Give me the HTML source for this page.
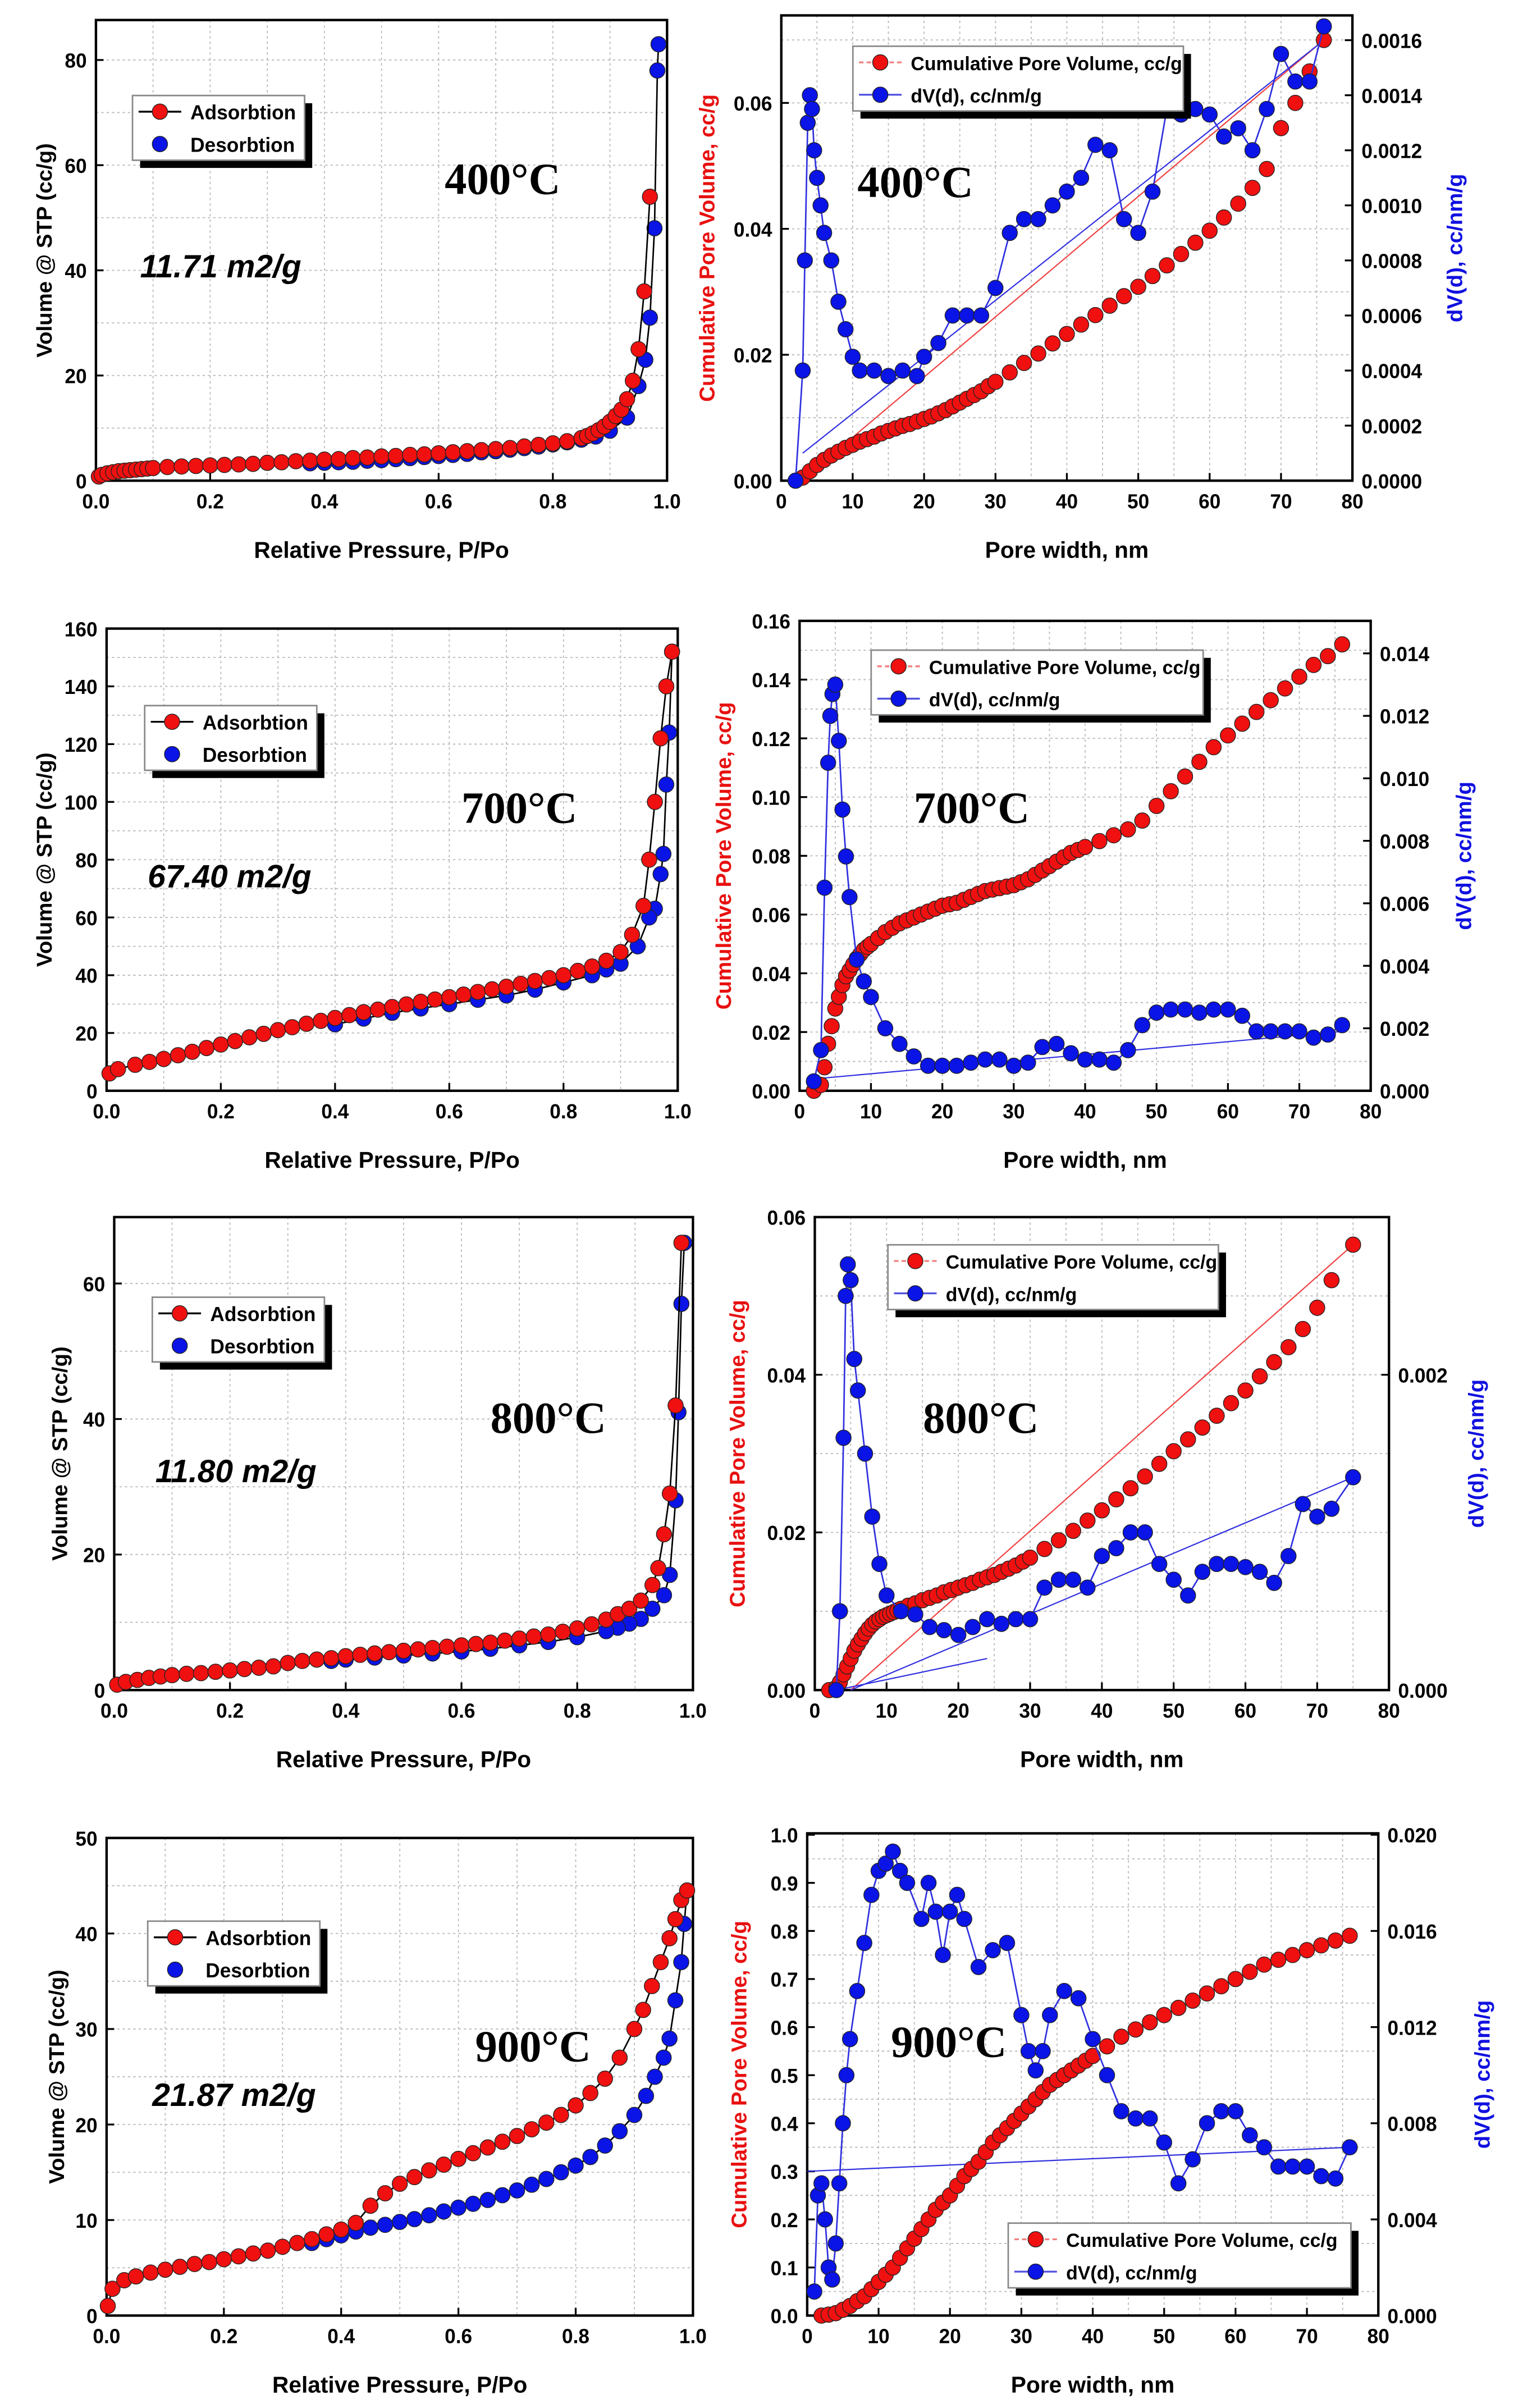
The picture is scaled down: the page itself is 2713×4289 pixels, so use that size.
<!DOCTYPE html>
<html><head><meta charset="utf-8">
<style>
html,body{margin:0;padding:0;background:#fff;}
svg{display:block;}
text{font-family:"Liberation Sans",sans-serif;}
text.serif{font-family:"Liberation Serif",serif;}
</style></head>
<body>
<svg id="fig" width="2713" height="4289" viewBox="0 0 1000 1563" preserveAspectRatio="none" xmlns="http://www.w3.org/2000/svg"></svg>
<script>
// ---------- Panel 1 (400°C) ----------
const iso1AdsP=[0.005,0.01,0.02,0.03,0.04,0.05,0.06,0.07,0.08,0.09,0.1,0.125,0.15,0.175,0.2,0.225,0.25,0.275,0.3,0.325,0.35,0.375,0.4,0.425,0.45,0.475,0.5,0.525,0.55,0.575,0.6,0.625,0.65,0.675,0.7,0.725,0.75,0.775,0.8,0.825,0.85,0.86,0.87,0.88,0.89,0.9,0.91,0.92,0.93,0.94,0.95,0.96,0.97];
const iso1AdsV=[0.8,1.1,1.4,1.6,1.8,1.9,2.0,2.1,2.2,2.3,2.4,2.6,2.7,2.8,2.9,3.0,3.1,3.2,3.4,3.5,3.7,3.8,4.0,4.1,4.3,4.4,4.6,4.7,4.9,5.0,5.2,5.4,5.6,5.8,6.0,6.2,6.5,6.8,7.1,7.5,8.1,8.5,9.0,9.6,10.3,11.2,12.3,13.5,15.5,19,25,36,54];
const iso1DesP=[0.985,0.983,0.978,0.97,0.962,0.95,0.93,0.9,0.875,0.85,0.825,0.8,0.775,0.75,0.725,0.7,0.675,0.65,0.625,0.6,0.575,0.55,0.525,0.5,0.475,0.45,0.425,0.4,0.375];
const iso1DesV=[83,78,48,31,23,18,12,9.5,8.4,7.8,7.3,6.9,6.5,6.2,5.9,5.6,5.4,5.1,4.9,4.7,4.5,4.3,4.1,3.9,3.8,3.6,3.5,3.4,3.3];
const pore1CumX=[2,3,4,5,6,7,8,9,10,11,12,13,14,15,16,17,18,19,20,21,22,23,24,25,26,27,28,29,30,32,34,36,38,40,42,44,46,48,50,52,54,56,58,60,62,64,66,68,70,72,74,76];
const pore1CumY=[0,0.0005,0.0015,0.0025,0.0033,0.004,0.0046,0.0052,0.0057,0.0062,0.0066,0.007,0.0075,0.0079,0.0083,0.0087,0.009,0.0094,0.0098,0.0102,0.0107,0.0112,0.0118,0.0124,0.013,0.0136,0.0142,0.015,0.0157,0.0172,0.0187,0.0202,0.0218,0.0233,0.0248,0.0263,0.0278,0.0293,0.0308,0.0325,0.0342,0.036,0.0378,0.0397,0.0418,0.044,0.0465,0.0495,0.056,0.06,0.065,0.07];
const pore1DvX=[2,3,3.3,3.7,4,4.3,4.6,5,5.5,6,7,8,9,10,11,13,15,17,19,20,22,24,26,28,30,32,34,36,38,40,42,44,46,48,50,52,54,56,58,60,62,64,66,68,70,72,74,76];
const pore1DvY=[0,0.0004,0.0008,0.0013,0.0014,0.00135,0.0012,0.0011,0.001,0.0009,0.0008,0.00065,0.00055,0.00045,0.0004,0.0004,0.00038,0.0004,0.00038,0.00045,0.0005,0.0006,0.0006,0.0006,0.0007,0.0009,0.00095,0.00095,0.001,0.00105,0.0011,0.00122,0.0012,0.00095,0.0009,0.00105,0.00135,0.00133,0.00135,0.00133,0.00125,0.00128,0.0012,0.00135,0.00155,0.00145,0.00145,0.00165];
const pore1TrendX=[3,76], pore1TrendCum=[0.0002,0.07], pore1TrendDv=[0.0001,0.0016];

// ---------- Panel 2 (700°C) ----------
const iso2AdsP=[0.005,0.02,0.05,0.075,0.1,0.125,0.15,0.175,0.2,0.225,0.25,0.275,0.3,0.325,0.35,0.375,0.4,0.425,0.45,0.475,0.5,0.525,0.55,0.575,0.6,0.625,0.65,0.675,0.7,0.725,0.75,0.775,0.8,0.825,0.85,0.875,0.9,0.92,0.94,0.95,0.96,0.97,0.98,0.99];
const iso2AdsV=[6,7.5,9,10,11,12.3,13.5,14.8,16,17.2,18.5,19.7,21,22,23.2,24.2,25.2,26.2,27.2,28.1,29,29.9,30.8,31.6,32.4,33.3,34.2,35.1,36,37,38,39,40,41.5,43,45,48,54,64,80,100,122,140,152];
const iso2DesP=[0.99,0.985,0.98,0.975,0.97,0.96,0.95,0.93,0.9,0.875,0.85,0.8,0.75,0.7,0.65,0.6,0.55,0.5,0.45,0.4];
const iso2DesV=[152,124,106,82,75,63,60,50,44,42,40,37.5,35,33,31.5,30,28.5,27,25,23];
const pore2CumX=[2,3,3.5,4,4.5,5,5.5,6,6.5,7,7.5,8,8.5,9,9.5,10,11,12,13,14,15,16,17,18,19,20,21,22,23,24,25,26,27,28,29,30,31,32,33,34,35,36,37,38,39,40,42,44,46,48,50,52,54,56,58,60,62,64,66,68,70,72,74,76];
const pore2CumY=[0,0.002,0.008,0.016,0.022,0.028,0.032,0.036,0.039,0.041,0.043,0.045,0.0465,0.048,0.049,0.05,0.052,0.054,0.0555,0.057,0.058,0.059,0.06,0.061,0.062,0.063,0.0635,0.064,0.065,0.066,0.067,0.068,0.0685,0.069,0.0695,0.07,0.071,0.072,0.0735,0.075,0.0765,0.078,0.0795,0.081,0.082,0.083,0.085,0.087,0.089,0.092,0.097,0.102,0.107,0.112,0.117,0.121,0.125,0.129,0.133,0.137,0.141,0.145,0.148,0.152];
const pore2DvX=[2,3,3.5,4,4.3,4.6,5,5.5,6,6.5,7,8,9,10,12,14,16,18,20,22,24,26,28,30,32,34,36,38,40,42,44,46,48,50,52,54,56,58,60,62,64,66,68,70,72,74,76];
const pore2DvY=[0.0003,0.0013,0.0065,0.0105,0.012,0.0127,0.013,0.0112,0.009,0.0075,0.0062,0.0042,0.0035,0.003,0.002,0.0015,0.0011,0.0008,0.0008,0.0008,0.0009,0.001,0.001,0.0008,0.0009,0.0014,0.0015,0.0012,0.001,0.001,0.0009,0.0013,0.0021,0.0025,0.0026,0.0026,0.0025,0.0026,0.0026,0.0024,0.0019,0.0019,0.0019,0.0019,0.0017,0.0018,0.0021];
const pore2TrendX=[3,76], pore2TrendDv=[0.0004,0.0019];

// ---------- Panel 3 (800°C) ----------
const iso3AdsP=[0.005,0.02,0.04,0.06,0.08,0.1,0.125,0.15,0.175,0.2,0.225,0.25,0.275,0.3,0.325,0.35,0.375,0.4,0.425,0.45,0.475,0.5,0.525,0.55,0.575,0.6,0.625,0.65,0.675,0.7,0.725,0.75,0.775,0.8,0.825,0.85,0.87,0.89,0.91,0.93,0.94,0.95,0.96,0.97,0.98];
const iso3AdsV=[0.8,1.2,1.5,1.8,2.0,2.2,2.4,2.5,2.7,2.9,3.1,3.3,3.5,4.0,4.3,4.5,4.7,5.0,5.2,5.4,5.6,5.8,6.0,6.2,6.4,6.6,6.8,7.0,7.3,7.6,7.9,8.2,8.6,9.1,9.7,10.4,11.2,12,13.2,15.5,18,23,29,42,66];
const iso3DesP=[0.985,0.98,0.975,0.97,0.96,0.95,0.93,0.91,0.89,0.87,0.85,0.8,0.75,0.7,0.65,0.6,0.55,0.5,0.45,0.4,0.375];
const iso3DesV=[66,57,41,28,17,14,12,10.5,9.8,9.2,8.7,7.8,7.1,6.6,6.1,5.7,5.4,5.1,4.8,4.5,4.3];
const pore3CumX=[2,3,3.5,4,4.5,5,5.5,6,6.5,7,7.5,8,8.5,9,9.5,10,10.5,11,11.5,12,13,14,15,16,17,18,19,20,21,22,23,24,25,26,27,28,29,30,32,34,36,38,40,42,44,46,48,50,52,54,56,58,60,62,64,66,68,70,72,75];
const pore3CumY=[0,0.0003,0.001,0.002,0.003,0.004,0.005,0.0058,0.0065,0.0072,0.0078,0.0083,0.0087,0.009,0.0093,0.0095,0.0097,0.0099,0.0101,0.0103,0.0107,0.011,0.0114,0.0117,0.012,0.0124,0.0127,0.013,0.0133,0.0136,0.014,0.0143,0.0146,0.015,0.0154,0.0158,0.0163,0.0168,0.0179,0.019,0.0202,0.0215,0.0228,0.0242,0.0256,0.0271,0.0287,0.0303,0.0318,0.0333,0.0348,0.0364,0.038,0.0398,0.0416,0.0435,0.0458,0.0485,0.052,0.0565];
const pore3DvX=[3,3.5,4,4.3,4.6,5,5.5,6,7,8,9,10,12,14,16,18,20,22,24,26,28,30,32,34,36,38,40,42,44,46,48,50,52,54,56,58,60,62,64,66,68,70,72,75];
const pore3DvY=[0,0.0005,0.0016,0.0025,0.0027,0.0026,0.0021,0.0019,0.0015,0.0011,0.0008,0.0006,0.0005,0.00048,0.0004,0.00038,0.00035,0.0004,0.00045,0.00042,0.00045,0.00045,0.00065,0.0007,0.0007,0.00065,0.00085,0.0009,0.001,0.001,0.0008,0.0007,0.0006,0.00075,0.0008,0.0008,0.00078,0.00075,0.00068,0.00085,0.00118,0.0011,0.00115,0.00135];
const pore3TrendX=[5,75], pore3TrendCum=[0,0.0565], pore3TrendDv=[0,0.00135];
const pore3Trend2X=[3,24], pore3Trend2Dv=[0,0.0002];

// ---------- Panel 4 (900°C) ----------
const iso4AdsP=[0.002,0.01,0.03,0.05,0.075,0.1,0.125,0.15,0.175,0.2,0.225,0.25,0.275,0.3,0.325,0.35,0.375,0.4,0.425,0.45,0.475,0.5,0.525,0.55,0.575,0.6,0.625,0.65,0.675,0.7,0.725,0.75,0.775,0.8,0.825,0.85,0.875,0.9,0.915,0.93,0.945,0.96,0.97,0.98,0.99];
const iso4AdsV=[1,2.8,3.7,4.1,4.5,4.8,5.1,5.4,5.6,5.9,6.2,6.5,6.8,7.2,7.6,8.0,8.5,9.0,9.7,11.5,12.8,13.8,14.5,15.2,15.8,16.4,17.0,17.6,18.2,18.8,19.5,20.2,21.0,22,23.3,24.8,27,30,32,34.5,37,39.5,41.5,43.5,44.5];
const iso4DesP=[0.99,0.985,0.98,0.97,0.96,0.95,0.935,0.92,0.9,0.875,0.85,0.825,0.8,0.775,0.75,0.725,0.7,0.675,0.65,0.625,0.6,0.575,0.55,0.525,0.5,0.475,0.45,0.425,0.4,0.375,0.35];
const iso4DesV=[44.5,41,37,33,29,27,25,23,21,19.3,17.8,16.6,15.7,15,14.3,13.7,13.1,12.6,12.1,11.7,11.3,10.9,10.5,10.1,9.8,9.5,9.2,8.8,8.4,8.0,7.6];
const pore4CumX=[2,3,4,5,6,7,8,9,10,11,12,13,14,15,16,17,18,19,20,21,22,23,24,25,26,27,28,29,30,31,32,33,34,35,36,37,38,39,40,42,44,46,48,50,52,54,56,58,60,62,64,66,68,70,72,74,76];
const pore4CumY=[0,0.002,0.005,0.012,0.02,0.03,0.04,0.055,0.07,0.085,0.1,0.12,0.14,0.16,0.18,0.2,0.22,0.235,0.25,0.27,0.29,0.305,0.32,0.34,0.36,0.375,0.39,0.405,0.42,0.435,0.45,0.465,0.48,0.49,0.5,0.51,0.52,0.53,0.54,0.56,0.58,0.595,0.61,0.625,0.64,0.655,0.67,0.685,0.7,0.715,0.73,0.74,0.75,0.76,0.77,0.78,0.79];
const pore4DvX=[1,1.5,2,2.5,3,3.5,4,4.5,5,5.5,6,7,8,9,10,11,12,13,14,16,17,18,19,20,21,22,24,26,28,30,31,32,33,34,36,38,40,42,44,46,48,50,52,54,56,58,60,62,64,66,68,70,72,74,76];
const pore4DvY=[0.001,0.005,0.0055,0.004,0.002,0.0015,0.003,0.0055,0.008,0.01,0.0115,0.0135,0.0155,0.0175,0.0185,0.0188,0.0193,0.0185,0.018,0.0165,0.018,0.0168,0.015,0.0168,0.0175,0.0165,0.0145,0.0152,0.0155,0.0125,0.011,0.0102,0.011,0.0125,0.0135,0.0132,0.0115,0.01,0.0085,0.0082,0.0082,0.0072,0.0055,0.0065,0.008,0.0085,0.0085,0.0075,0.007,0.0062,0.0062,0.0062,0.0058,0.0057,0.007];
const pore4TrendX=[0,76], pore4TrendDv=[0.006,0.007];

// ---------- rendering ----------
const NS="http://www.w3.org/2000/svg";
const fig=document.getElementById('fig');
function mk(tag,attrs,parent){const e=document.createElementNS(NS,tag);for(const k in attrs)e.setAttribute(k,attrs[k]);(parent||fig).appendChild(e);return e;}
function txt(s,attrs,parent){const e=mk('text',attrs,parent);e.textContent=s;return e;}
function lin(d0,d1,r0,r1){return v=>r0+(v-d0)/(d1-d0)*(r1-r0);}

function frame(g,L,T,R,B,xs,xTicks,xMinor,xDec,ys,yTicks,yMinor,yDec,yLabelX,yAnchor){
  xMinor.forEach(v=>{const l=mk('line',{x1:xs(v),x2:xs(v),y1:T,y2:B,stroke:'#bbb','stroke-width':0.7,'stroke-dasharray':'1.5,2'},g);
    });
  yMinor.forEach(v=>{const l=mk('line',{x1:L,x2:R,y1:ys(v),y2:ys(v),stroke:'#bbb','stroke-width':0.7,'stroke-dasharray':'1.5,2'},g);
    });
  const b=mk('rect',{x:L,y:T,width:R-L,height:B-T,fill:'none',stroke:'#000','stroke-width':1.6},g);
  
  xTicks.forEach(v=>{mk('line',{x1:xs(v),x2:xs(v),y1:B,y2:B-5,stroke:'#000','stroke-width':1.2},g);
    const t=txt(v.toFixed(xDec),{x:xs(v),y:B+18,'text-anchor':'middle','font-size':13,'font-weight':'bold'},g);
    });
  yTicks.forEach(v=>{mk('line',{x1:L,x2:L+5,y1:ys(v),y2:ys(v),stroke:'#000','stroke-width':1.2},g);
    const t=txt(v.toFixed(yDec),{x:yLabelX,y:ys(v)+5,'text-anchor':yAnchor,'font-size':13,'font-weight':'bold'},g);
    });
}
function series(g,xa,ya,xs,ys,fill,lineCol,r,name){
  let d='';xa.forEach((x,i)=>{d+=(i?'L':'M')+xs(x).toFixed(2)+','+ys(ya[i]).toFixed(2);});
  const p=mk('path',{d:d,fill:'none',stroke:lineCol,'stroke-width':1},g);
  
  xa.forEach((x,i)=>{const c=mk('circle',{cx:xs(x),cy:ys(ya[i]),r:r,fill:fill,stroke:'#222','stroke-width':0.5},g);
    });
}
function trend(g,xa,ya,xs,ys,col,name){
  const l=mk('line',{x1:xs(xa[0]),y1:ys(ya[0]),x2:xs(xa[1]),y2:ys(ya[1]),stroke:col,'stroke-width':0.8},g);
  
}
function legend(g,x,y,w,h,items,fs){
  mk('rect',{x:x+5,y:y+5,width:w,height:h,fill:'#000'},g);
  const r=mk('rect',{x:x,y:y,width:w,height:h,fill:'#fff',stroke:'#888','stroke-width':1},g);
  
  items.forEach((it,i)=>{const cy=y+h*(i*2+1)/(items.length*2);
    if(it.line)mk('line',{x1:x+4,x2:x+32,y1:cy,y2:cy,stroke:it.line,'stroke-width':1.2,'stroke-dasharray':it.dash||''},g);
    mk('circle',{cx:x+18,cy:cy,r:5,fill:it.col,stroke:'#222','stroke-width':0.5},g);
    const t=txt(it.label,{x:x+38,y:cy+5,'font-size':fs,'font-weight':'bold'},g);
    });
}
function rot(g,s,x,y,col,fs,name){const t=txt(s,{x:x,y:y,'text-anchor':'middle','font-size':fs,'font-weight':'bold',fill:col,transform:`rotate(-90 ${x} ${y})`},g);
  }
function label(g,s,x,y,attrs,name){const t=txt(s,Object.assign({x:x,y:y},attrs),g);return t;}

function range(a,b,s){const r=[];for(let v=a;v<=b+1e-9;v+=s)r.push(+v.toFixed(6));return r;}

function isoPanel(o){
  const g=mk('g',{});
  const xs=lin(0,1,o.L,o.R), ys=lin(0,o.ymax,o.B,o.T);
  frame(g,o.L,o.T,o.R,o.B,xs,range(0,1,0.2),range(0.1,0.9,0.1),1,ys,o.yTicks,o.yMinor,0,o.L-6,'end');
  series(g,o.desP,o.desV,xs,ys,'#0a14e6','#000',5,'desorption');
  series(g,o.adsP,o.adsV,xs,ys,'#f01010','#000',5,'adsorption');
  legend(g,o.lx,o.ly,113,42,[{col:'#f01010',line:'#000',label:'Adsorbtion'},{col:'#0a14e6',label:'Desorbtion'}],13);
  rot(g,'Volume @ STP (cc/g)',o.ylx,(o.T+o.B)/2,'#000',14,'y-axis-title');
  label(g,'Relative Pressure, P/Po',(o.L+o.R)/2,o.B+50,{'text-anchor':'middle','font-size':15,'font-weight':'bold'},'x-axis-title');
  label(g,o.temp,o.tx,o.ty,{'class':'serif','font-size':29,'font-weight':'bold'},'temperature-label');
  label(g,o.area,o.ax,o.ay,{'font-size':21,'font-weight':'bold','font-style':'italic'},'surface-area-label');
}
function porePanel(o){
  const g=mk('g',{});
  const xs=lin(0,80,o.L,o.R), ys=lin(0,o.ymax,o.B,o.T), y2=lin(0,o.y2max,o.B,o.T);
  frame(g,o.L,o.T,o.R,o.B,xs,range(0,80,10),range(5,75,5),0,ys,o.yTicks,o.yMinor,o.yDec,o.L-6,'end');
  o.y2Ticks.forEach(v=>{mk('line',{x1:o.R,x2:o.R-5,y1:y2(v),y2:y2(v),stroke:'#000','stroke-width':1.2},g);
    const t=txt(v.toFixed(o.y2Dec),{x:o.R+6,y:y2(v)+5,'font-size':13,'font-weight':'bold'},g);
    });
  if(o.tCum)trend(g,o.tX,o.tCum,xs,ys,'#f04040','cumulative-trend-line');
  trend(g,o.tX,o.tDv,xs,y2,'#3030e0','dv-trend-line');
  if(o.t2X)trend(g,o.t2X,o.t2Dv,xs,y2,'#3030e0','dv-trend-line-2');
  series(g,o.cumX,o.cumY,xs,ys,'#f01010','none',5,'cumulative-volume');
  series(g,o.dvX,o.dvY,xs,y2,'#0a14e6','#3030e0',5,'dv');
  legend(g,o.lx,o.ly,o.lw,42,[{col:'#f01010',line:'#f08080',dash:'3,2',label:'Cumulative Pore Volume, cc/g'},{col:'#0a14e6',line:'#5050e0',label:'dV(d), cc/nm/g'}],12.5);
  rot(g,'Cumulative Pore Volume, cc/g',o.ylx,(o.T+o.B)/2,'#e81010',14,'left-y-axis-title');
  rot(g,'dV(d), cc/nm/g',o.y2lx,(o.T+o.B)/2,'#1010e0',14,'right-y-axis-title');
  label(g,'Pore width, nm',(o.L+o.R)/2,o.B+50,{'text-anchor':'middle','font-size':15,'font-weight':'bold'},'x-axis-title');
  label(g,o.temp,o.tx,o.ty,{'class':'serif','font-size':29,'font-weight':'bold'},'temperature-label');
}

isoPanel({id:'400',L:63,R:438,T:13,B:312,ymax:87.6,yTicks:range(0,80,20),yMinor:range(10,80,10),adsP:iso1AdsP,adsV:iso1AdsV,desP:iso1DesP,desV:iso1DesV,lx:87,ly:62,ylx:34,temp:'400°C',tx:292,ty:126,area:'11.71 m2/g',ax:92,ay:180});
porePanel({id:'400',L:513,R:888,T:10,B:312,ymax:0.0739,yTicks:range(0,0.06,0.02),yMinor:range(0.01,0.07,0.01),yDec:2,y2max:0.00169,y2Ticks:range(0,0.0016,0.0002),y2Dec:4,y2lx:960,ylx:469,
  cumX:pore1CumX,cumY:pore1CumY,dvX:pore1DvX,dvY:pore1DvY,tX:pore1TrendX,tCum:pore1TrendCum,tDv:pore1TrendDv,lx:560,ly:30,lw:217,temp:'400°C',tx:563,ty:128});

isoPanel({id:'700',L:70,R:445,T:408,B:708,ymax:160,yTicks:range(0,160,20),yMinor:range(10,150,10),adsP:iso2AdsP,adsV:iso2AdsV,desP:iso2DesP,desV:iso2DesV,lx:95,ly:458,ylx:34,temp:'700°C',tx:303,ty:534,area:'67.40 m2/g',ax:97,ay:576});
porePanel({id:'700',L:525,R:900,T:403,B:708,ymax:0.16,yTicks:range(0,0.16,0.02),yMinor:range(0.01,0.15,0.01),yDec:2,y2max:0.01504,y2Ticks:range(0,0.014,0.002),y2Dec:3,y2lx:966,ylx:480,
  cumX:pore2CumX,cumY:pore2CumY,dvX:pore2DvX,dvY:pore2DvY,tX:pore2TrendX,tDv:pore2TrendDv,lx:572,ly:422,lw:218,temp:'700°C',tx:600,ty:534});

isoPanel({id:'800',L:75,R:455,T:790,B:1097,ymax:69.8,yTicks:range(0,60,20),yMinor:range(10,60,10),adsP:iso3AdsP,adsV:iso3AdsV,desP:iso3DesP,desV:iso3DesV,lx:100,ly:842,ylx:44,temp:'800°C',tx:322,ty:930,area:'11.80 m2/g',ax:102,ay:962});
porePanel({id:'800',L:535,R:912,T:790,B:1097,ymax:0.06,yTicks:range(0,0.06,0.02),yMinor:range(0.01,0.05,0.01),yDec:2,y2max:0.003,y2Ticks:range(0,0.002,0.002),y2Dec:3,y2lx:974,ylx:489,
  cumX:pore3CumX,cumY:pore3CumY,dvX:pore3DvX,dvY:pore3DvY,tX:pore3TrendX,tCum:pore3TrendCum,tDv:pore3TrendDv,t2X:pore3Trend2X,t2Dv:pore3Trend2Dv,lx:583,ly:808,lw:217,temp:'800°C',tx:606,ty:930});

isoPanel({id:'900',L:70,R:455,T:1193,B:1503,ymax:50,yTicks:range(0,50,10),yMinor:range(5,45,5),adsP:iso4AdsP,adsV:iso4AdsV,desP:iso4DesP,desV:iso4DesV,lx:97,ly:1247,ylx:42,temp:'900°C',tx:312,ty:1338,area:'21.87 m2/g',ax:100,ay:1367});
porePanel({id:'900',L:530,R:905,T:1190,B:1503,ymax:1.003,yTicks:range(0,1,0.1),yMinor:range(0.05,0.95,0.1),yDec:1,y2max:0.02006,y2Ticks:range(0,0.02,0.004),y2Dec:3,y2lx:978,ylx:490,
  cumX:pore4CumX,cumY:pore4CumY,dvX:pore4DvX,dvY:pore4DvY,tX:pore4TrendX,tDv:pore4TrendDv,lx:662,ly:1443,lw:225,temp:'900°C',tx:585,ty:1335});
</script>
</body></html>
